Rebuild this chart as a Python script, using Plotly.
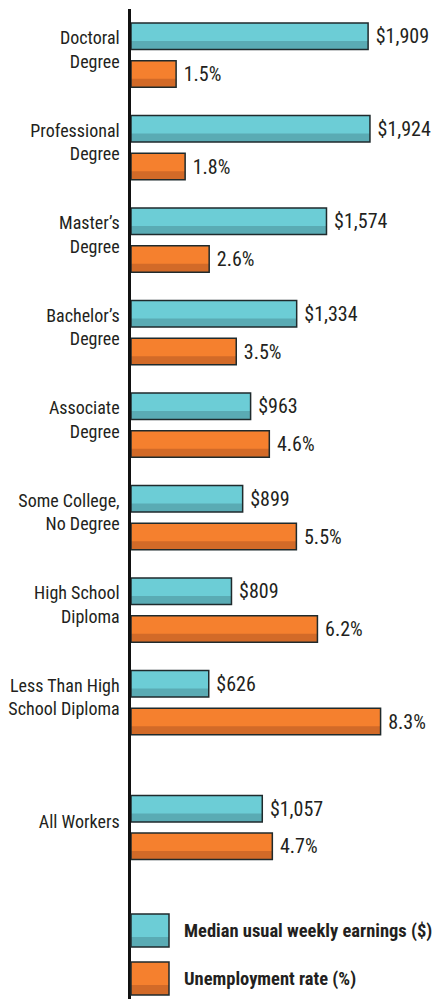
import plotly.graph_objects as go

# ---------------- data ----------------
categories = ["Doctoral<br>Degree", "Professional<br>Degree", "Master’s<br>Degree",
              "Bachelor’s<br>Degree", "Associate<br>Degree", "Some College,<br>No Degree",
              "High School<br>Diploma", "Less Than High<br>School Diploma", "All Workers"]
earnings = [1909, 1924, 1574, 1334, 963, 899, 809, 626, 1057]
unemployment = [1.5, 1.8, 2.6, 3.5, 4.6, 5.5, 6.2, 8.3, 4.7]
legend_labels = ["Median usual weekly earnings ($)", "Unemployment rate (%)"]

# ---------------- styling / layout helpers ----------------
W, H = 439, 999
ML, MR, MT, MB = 131, 0, 9, 0
PH = H - MT - MB
PW = W - ML - MR
UNIT = 92.5          # px per category step
Y0PX = 55.15         # pixel of first category centre
pos = [float(i) for i in range(len(categories) - 1)] + [len(categories) - 1 + 0.35]

FONT = "Liberation Sans Narrow, Roboto Condensed, Arial Narrow, Roboto, sans-serif"
TEAL, TEAL_D = "#6CCDD6", "#5AABB4"
ORANGE, ORANGE_D = "#F5802E", "#D26A28"
OUTLINE = "#1f2a2c"
TXT = "#231f20"

thick = 26.5 / UNIT
half = 18.85 / UNIT
band = 8.5 / UNIT

fig = go.Figure()

def add_series(vals, axis, fill, dark, sign, tmpl):
    off = sign * half - thick / 2
    fig.add_trace(go.Bar(y=pos, x=vals, orientation="h", xaxis=axis,
                         width=thick, offset=off, marker=dict(color=fill, line=dict(width=0)),
                         hoverinfo="skip"))
    fig.add_trace(go.Bar(y=pos, x=vals, orientation="h", xaxis=axis,
                         width=band, offset=off + thick - band,
                         marker=dict(color=dark, line=dict(width=0)), hoverinfo="skip"))
    fig.add_trace(go.Bar(y=pos, x=vals, orientation="h", xaxis=axis,
                         width=thick, offset=off, hoverinfo="skip",
                         marker=dict(color="rgba(0,0,0,0)", line=dict(color=OUTLINE, width=1.5)),
                         texttemplate=tmpl, textposition="outside", constraintext="none",
                         cliponaxis=False, textfont=dict(family=FONT, size=20, color=TXT)))

add_series(earnings, "x", TEAL, TEAL_D, -1, "\u00a0$%{x:,}")
add_series(unemployment, "x2", ORANGE, ORANGE_D, 1, "\u00a0%{x:.1f}%")

# ---------------- legend (drawn) ----------------
def py(p):
    return (H - MB - p) / PH

def px(p):
    return (p - ML) / PW

legend_boxes = [(914, 947, TEAL, TEAL_D), (962, 995, ORANGE, ORANGE_D)]
for (top, bot, c, d), lab in zip(legend_boxes, legend_labels):
    fig.add_shape(type="rect", xref="paper", yref="paper", x0=px(131), x1=px(169),
                  y0=py(bot), y1=py(top), fillcolor=c, line=dict(width=0), layer="above")
    fig.add_shape(type="rect", xref="paper", yref="paper", x0=px(131), x1=px(169),
                  y0=py(bot), y1=py(bot - 10), fillcolor=d, line=dict(width=0), layer="above")
    fig.add_shape(type="rect", xref="paper", yref="paper", x0=px(131), x1=px(169),
                  y0=py(bot), y1=py(top), fillcolor="rgba(0,0,0,0)",
                  line=dict(color=OUTLINE, width=1.5), layer="above")
    fig.add_annotation(xref="paper", yref="paper", x=px(182), y=py((top + bot) / 2),
                       text="<b>" + lab + "</b>", showarrow=False, xanchor="left", yanchor="middle",
                       font=dict(family=FONT, size=18.5, color=TXT))

ytop = -(Y0PX - MT) / UNIT
ybot = (H - MB - Y0PX) / UNIT

fig.update_layout(
    width=W, height=H, margin=dict(l=ML, r=MR, t=MT, b=MB, pad=0, autoexpand=False),
    paper_bgcolor="white", plot_bgcolor="white", showlegend=False, barmode="overlay",
    font=dict(family=FONT, color=TXT), hovermode=False,
    xaxis=dict(range=[0, PW / 0.1242], visible=False, fixedrange=True, automargin=False),
    xaxis2=dict(range=[0, PW / 30.07], overlaying="x", side="top", visible=False,
                automargin=False),
    yaxis=dict(range=[ybot, ytop], tickvals=[p - 0.06 for p in pos], ticktext=categories,
               automargin=False,
               showgrid=False, zeroline=False, showline=True, linecolor="#111", linewidth=2.5,
               ticks="", ticklabelstandoff=5, tickfont=dict(family=FONT, size=18, color=TXT)),
)

fig.write_html("out.html", config={"displayModeBar": False},
               post_script="document.body.style.margin='0';document.body.style.overflow='hidden';")
